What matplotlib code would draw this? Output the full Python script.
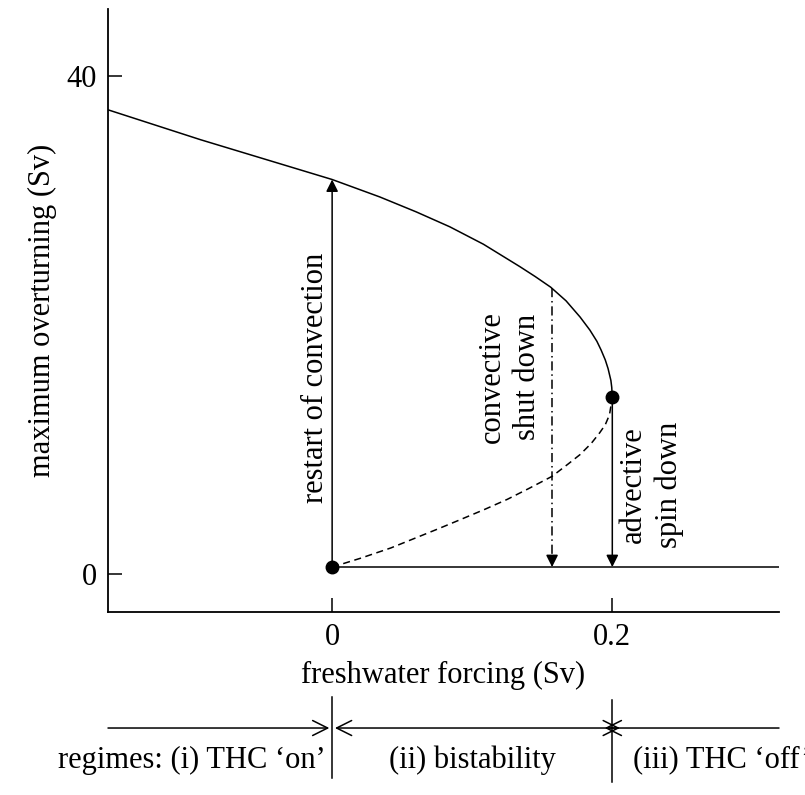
import matplotlib
matplotlib.use('Agg')
import matplotlib.pyplot as plt
from matplotlib.transforms import blended_transform_factory

# (freshwater forcing F in Sv, overturning M in Sv)
upper_F = [-0.160, -0.094, 0.000, 0.017, 0.034, 0.060, 0.084, 0.108, 0.134, 0.145, 0.156,
           0.167, 0.177, 0.184, 0.189, 0.192, 0.195, 0.197, 0.199, 0.1996, 0.200]
upper_M = [37.3, 34.9, 31.7, 31.0, 30.3, 29.1, 27.9, 26.5, 24.7, 23.9, 23.05,
           21.95, 20.65, 19.6, 18.7, 18.0, 17.2, 16.5, 15.55, 15.0, 14.2]

lower_F = [0.000, 0.006, 0.020, 0.042, 0.075, 0.090, 0.109, 0.125, 0.140, 0.157,
           0.168, 0.177, 0.185, 0.191, 0.195, 0.198, 0.200]
lower_M = [0.56, 0.77, 1.26, 2.1, 3.6, 4.3, 5.2, 6.0, 6.85, 7.85,
           8.8, 9.6, 10.5, 11.35, 12.0, 12.8, 14.2]

off_M = 0.56
bif_points_F = [0.0, 0.2]
bif_points_M = [0.56, 14.2]

restart_F, restart_top = 0.0, 31.7
shutdown_F, shutdown_top = 0.157, 22.95
spindown_F, spindown_top = 0.2, 14.2

xticks = [0, 0.2]
xtick_labels = ['0', '0.2']
yticks = [0, 40]
xlim = (-0.160, 0.319)
ylim = (-3.05, 45.4)

regime_edges = [0.0, 0.2]
regime_labels = ['regimes: (i) THC \u2018on\u2019', '(ii) bistability', '(iii) THC \u2018off\u2019']

plt.rcParams['font.family'] = ['Liberation Serif', 'DejaVu Serif']
plt.rcParams['font.size'] = 22

fig = plt.figure(figsize=(8.05, 7.95), dpi=100)
ax = fig.add_axes([108/805, 1 - 612/795, (779 - 108)/805, (612 - 9)/795])

lw = 1.1
ax.plot(upper_F, upper_M, color='k', lw=lw, solid_joinstyle='round')
ax.plot(lower_F, lower_M, color='k', lw=lw, ls=(0, (4.6, 3.0)))
ax.plot([0, xlim[1]], [off_M, off_M], color='k', lw=lw)
ax.plot(bif_points_F, bif_points_M, 'o', color='k', ms=9, zorder=5)

head = dict(arrowstyle='-|>', color='k', lw=lw, mutation_scale=18, shrinkA=0, shrinkB=0)

# restart of convection (up) and advective spin down (down)
ax.annotate('', xy=(restart_F, restart_top), xytext=(restart_F, off_M), arrowprops=head)
ax.annotate('', xy=(spindown_F, off_M), xytext=(spindown_F, spindown_top), arrowprops=head)

# convective shut down: dash-dot line with a solid head
ax.plot([shutdown_F, shutdown_F], [shutdown_top, off_M + 0.6], color='k', lw=lw,
        ls=(0, (6, 2.5, 1, 2.5)))
ax.annotate('', xy=(shutdown_F, off_M), xytext=(0, 7.5), textcoords='offset points', arrowprops=head)

ax.text(-0.0121, 15.8, 'restart of convection', rotation=90, ha='center', va='center')
ax.text(0.127, 15.8, 'convective\nshut down', rotation=90, ha='center', va='center',
        multialignment='center', linespacing=1.27)
ax.text(0.228, 7.15, 'advective\nspin down', rotation=90, ha='center', va='center',
        multialignment='center', linespacing=1.3)

ax.set_xlim(*xlim)
ax.set_ylim(*ylim)
ax.set_xticks(xticks)
ax.set_xticklabels(xtick_labels)
ax.set_yticks(yticks)
ax.tick_params(direction='in', length=10, width=1.1, pad=8, labelsize=22)
for s in ['top', 'right']:
    ax.spines[s].set_visible(False)
for s in ['left', 'bottom']:
    ax.spines[s].set_linewidth(1.3)

ax.set_xlabel('freshwater forcing (Sv)')
ax.xaxis.set_label_coords(0.5, -0.1045)
ax.xaxis.label.set_va('center')
ax.set_ylabel('maximum overturning (Sv)')
ax.yaxis.set_label_coords(-0.098, 0.5)
ax.yaxis.label.set_va('center')

# regime bar under the axis
trans = blended_transform_factory(ax.transData, ax.transAxes)
y_reg = -0.1924
open_head = dict(color='k', lw=lw, mutation_scale=27, shrinkA=0, shrinkB=0)
ax.annotate('', xy=(-0.002, y_reg), xytext=(xlim[0], y_reg), xycoords=trans, textcoords=trans,
            arrowprops=dict(arrowstyle='->', **open_head), annotation_clip=False)
ax.annotate('', xy=(0.2054, y_reg), xytext=(0.002, y_reg), xycoords=trans, textcoords=trans,
            arrowprops=dict(arrowstyle='<->', **open_head), annotation_clip=False)
ax.annotate('', xy=(0.1946, y_reg), xytext=(xlim[1], y_reg), xycoords=trans, textcoords=trans,
            arrowprops=dict(arrowstyle='->', **open_head), annotation_clip=False)

ax.plot([regime_edges[0]] * 2, [-0.141, -0.275], color='k', lw=lw, transform=trans, clip_on=False)
ax.plot([regime_edges[1]] * 2, [-0.146, -0.282], color='k', lw=lw, transform=trans, clip_on=False)

y_txt = -0.2454
ax.text(-0.005, y_txt, regime_labels[0], transform=trans, ha='right', va='center')
ax.text(0.1, y_txt, regime_labels[1], transform=trans, ha='center', va='center')
ax.text(0.215, y_txt, regime_labels[2], transform=trans, ha='left', va='center')

fig.savefig('out.png', dpi=100)
